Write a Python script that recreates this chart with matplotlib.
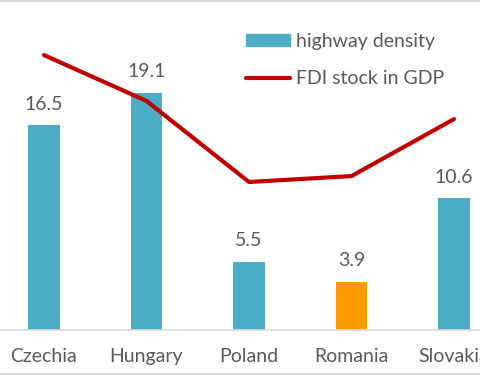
import numpy as np
import matplotlib
matplotlib.use('Agg')
import matplotlib.pyplot as plt
from matplotlib.patches import Patch
from matplotlib.lines import Line2D

countries = ['Czechia', 'Hungary', 'Poland', 'Romania', 'Slovakia']
highway_density = [16.5, 19.1, 5.5, 3.9, 10.6]
fdi_stock = [74.3, 61.9, 40.0, 41.6, 57.0]

plt.rcParams['font.family'] = ['Lato', 'DejaVu Sans']
text_col = '#595959'
bar_col = '#4BACC6'
hi_col = '#FF9900'
line_col = '#C00000'
fs = 14

fig = plt.figure(figsize=(4.8, 3.76), dpi=100)
ax = fig.add_axes([0, 46 / 376, 1, 330 / 376])
x = np.arange(len(countries))
colors = [hi_col if c == 'Romania' else bar_col for c in countries]
ax.bar(x, highway_density, width=0.31, color=colors, zorder=2)
ax.set_xlim(-44 / 102.5, (480 - 44) / 102.5)
ax.set_ylim(0, 330 / 12.42)

# value labels above bars
for xi, v in zip(x, highway_density):
    ax.annotate(f'{v:.1f}', (xi, v), xytext=(0, 9), textcoords='offset points',
                ha='center', va='bottom', fontsize=fs, color=text_col)

ax.set_xticks(x)
ax.set_xticklabels(countries, fontsize=fs, color=text_col)
ax.tick_params(axis='x', length=0, pad=13)
ax.set_yticks([])
for s in ['top', 'right', 'left']:
    ax.spines[s].set_visible(False)
ax.spines['bottom'].set_color('#D9D9D9')
ax.spines['bottom'].set_linewidth(1.2)

# FDI line on hidden secondary axis
ax2 = ax.twinx()
ax2.plot(x, fdi_stock, color=line_col, lw=3, solid_capstyle='round', zorder=3)
ax2.set_ylim(0, 330 / 3.7)
ax2.set_yticks([])
for s in ax2.spines.values():
    s.set_visible(False)

handles = [Patch(color=bar_col), Line2D([], [], color=line_col, lw=3, solid_capstyle='round')]
fig.legend(handles, ['highway density', 'FDI stock in GDP'], loc='upper left',
           bbox_to_anchor=(246 / 480, 1 - 33 / 376), frameon=False, fontsize=fs,
           labelcolor=text_col, handlelength=2.27, handleheight=0.55, labelspacing=1.05,
           handletextpad=0.3, borderpad=0, borderaxespad=0)

fig.add_artist(Line2D([0, 1], [0.998, 0.998], color='#D9D9D9', lw=1.5, transform=fig.transFigure))
fig.add_artist(Line2D([0, 1], [2 / 376, 2 / 376], color='#D9D9D9', lw=1.5, transform=fig.transFigure))

fig.savefig('out.png', dpi=100)
